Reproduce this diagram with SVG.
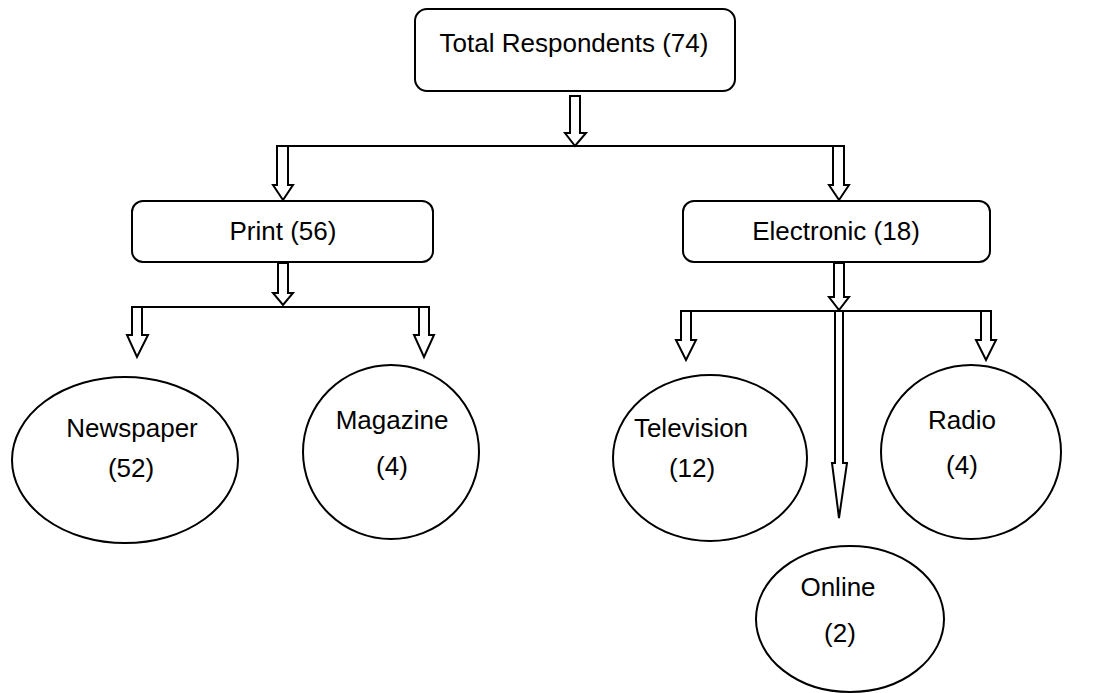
<svg xmlns="http://www.w3.org/2000/svg" width="1113" height="693" viewBox="0 0 1113 693">
  <style>
    .box { fill: #fff; stroke: #000; stroke-width: 2; }
    .oval { fill: #fff; stroke: #000; stroke-width: 2; }
    .arrow { fill: #fff; stroke: #000; stroke-width: 2; stroke-linejoin: miter; }
    .link { fill: none; stroke: #000; stroke-width: 2; }
    text { font-family: "Liberation Sans", Arial, sans-serif; font-size: 26px; fill: #000; text-anchor: middle; }
  </style>
  <rect width="1113" height="693" fill="#fff"/>

  <g id="connectors">
    <!-- branch bars -->
    <line class="link" x1="282" y1="146" x2="839" y2="146"/>
    <line class="link" x1="132" y1="307" x2="429" y2="307"/>
    <line class="link" x1="681" y1="311" x2="991" y2="311"/>
    <!-- hollow block arrows -->
    <polygon class="arrow" points="570,96 580,96 580,133 586,133 575,146 565,133 570,133"/>
    <polygon class="arrow" points="277,146 288,146 288,185 293,185 283,200 273,185 277,185"/>
    <polygon class="arrow" points="833,146 844,146 844,185 849,185 839,200 829,185 833,185"/>
    <polygon class="arrow" points="278,263 288,263 288,293 293,293 283,305 273,293 278,293"/>
    <polygon class="arrow" points="834,263 844,263 844,297 849,297 839,310 829,297 834,297"/>
    <polygon class="arrow" points="132,307 142,307 142,335 148,335 137,357 127,335 132,335"/>
    <polygon class="arrow" points="419,307 429,307 429,335 434,335 424,357 414,335 419,335"/>
    <polygon class="arrow" points="681,311 691,311 691,340 696,340 686,360 676,340 681,340"/>
    <polygon class="arrow" points="981,311 991,311 991,340 996,340 986,360 976,340 981,340"/>
    <polygon class="arrow" points="835,311 843,311 843,463 847,463 839,518 832,463 835,463"/>
  </g>

  <g id="total">
    <rect class="box" x="415" y="9" width="320" height="82" rx="12"/>
    <text x="574" y="52">Total Respondents (74)</text>
  </g>

  <g id="print">
    <rect class="box" x="132" y="201" width="301" height="61" rx="11"/>
    <text x="283" y="240">Print (56)</text>
  </g>

  <g id="electronic">
    <rect class="box" x="683" y="201" width="307" height="61" rx="11"/>
    <text x="836" y="240">Electronic (18)</text>
  </g>

  <g id="newspaper">
    <ellipse class="oval" cx="125" cy="460" rx="113" ry="83"/>
    <text x="132" y="437">Newspaper</text>
    <text x="131" y="477">(52)</text>
  </g>

  <g id="magazine">
    <ellipse class="oval" cx="391" cy="452" rx="88" ry="87"/>
    <text x="392" y="429">Magazine</text>
    <text x="392" y="475">(4)</text>
  </g>

  <g id="television">
    <ellipse class="oval" cx="710" cy="458" rx="97" ry="83"/>
    <text x="691" y="437">Television</text>
    <text x="692" y="477">(12)</text>
  </g>

  <g id="radio">
    <ellipse class="oval" cx="971" cy="452" rx="90" ry="87"/>
    <text x="962" y="429">Radio</text>
    <text x="962" y="474">(4)</text>
  </g>

  <g id="online">
    <ellipse class="oval" cx="850" cy="619" rx="94" ry="73"/>
    <text x="838" y="596">Online</text>
    <text x="840" y="642">(2)</text>
  </g>
</svg>
